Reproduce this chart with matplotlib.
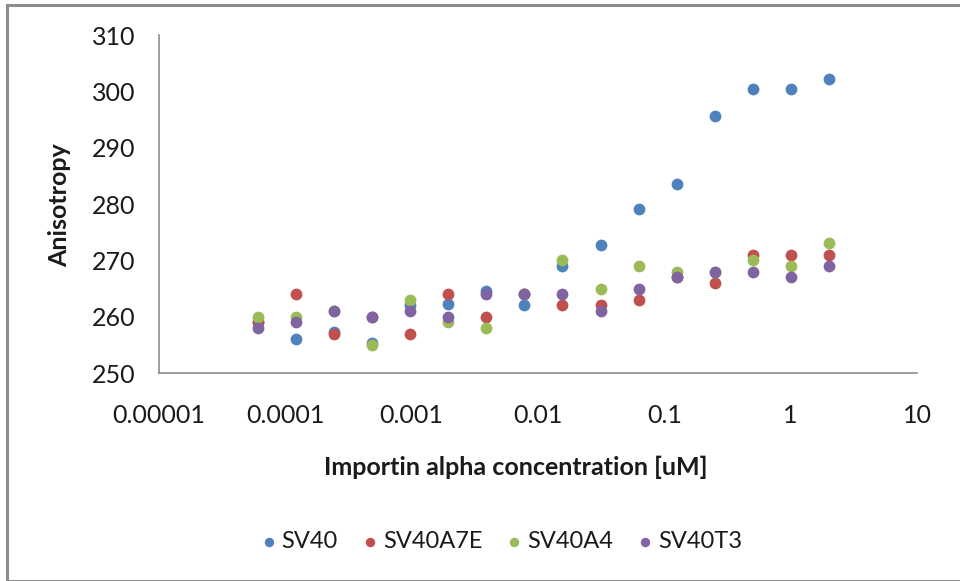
import matplotlib
matplotlib.use("Agg")
import matplotlib.pyplot as plt
from matplotlib.patches import Rectangle

conc = [2 / 2**k for k in range(15, -1, -1)]
sv40 =    [259, 256, 257.3, 255.3, 262, 262.3, 264.5, 262, 269, 272.7, 279.2, 283.5, 295.6, 300.5, 300.4, 302.2]
sv40a7e = [259, 264, 257,   260,   257, 264,   260,   264, 262, 262,   263,   267,   266,   271,   271,   271]
sv40a4 =  [260, 260, 261,   255,   263, 259,   258,   264, 270, 265,   269,   268,   268,   270,   269,   273]
sv40t3 =  [258, 259, 261,   260,   261, 260,   264,   264, 264, 261,   265,   267,   268,   268,   267,   269]
series = [("SV40", sv40, "#4F81BD"), ("SV40A7E", sv40a7e, "#C0504D"),
          ("SV40A4", sv40a4, "#9BBB59"), ("SV40T3", sv40t3, "#8064A2")]
xticks = [1e-5, 1e-4, 1e-3, 1e-2, 1e-1, 1, 10]
xticklabels = ["0.00001", "0.0001", "0.001", "0.01", "0.1", "1", "10"]
yticks = [250, 260, 270, 280, 290, 300, 310]

plt.rcParams['font.family'] = ['Lato', 'DejaVu Sans']
fig = plt.figure(figsize=(9.6, 5.81), dpi=100)
fig.patches.append(Rectangle((7/960, 0.5/581), 2, 1 - 5.5/581, transform=fig.transFigure,
                             fill=False, edgecolor="#8c8c8c", linewidth=2.2))
ax = fig.add_axes([159/960, 1 - 373/581, (917 - 159)/960, (373 - 35)/581])
for name, vals, col in series:
    ax.scatter(conc, vals, s=72, color=col, label=name, zorder=3, linewidths=0)
ax.set_xscale("log")
ax.set_xlim(1e-5, 10)
ax.set_ylim(250, 310)
ax.set_xticks(xticks)
ax.set_xticklabels(xticklabels)
ax.xaxis.set_minor_locator(matplotlib.ticker.NullLocator())
ax.set_yticks(yticks)
ax.tick_params(length=0, labelsize=18, colors="#1a1a1a")
ax.tick_params(axis="x", pad=22)
ax.tick_params(axis="y", pad=17)
for s in ["top", "right"]:
    ax.spines[s].set_visible(False)
for s in ["left", "bottom"]:
    ax.spines[s].set_color("#8c8c8c")
    ax.spines[s].set_linewidth(1.2)
fig.text(60/960, 1 - 205/581, "Anisotropy", rotation=90, ha="center", va="center",
         fontsize=18, fontweight="bold", color="#1a1a1a")
fig.text(516/960, 1 - 467/581, "Importin alpha concentration [uM]", ha="center", va="center",
         fontsize=18, fontweight="bold", color="#1a1a1a")
leg = fig.legend(loc="center", bbox_to_anchor=(500/960, 1 - 542/581), ncol=4, frameon=False,
                 fontsize=17, handletextpad=0.1, handlelength=0.9, columnspacing=0.9,
                 markerscale=0.8)
for t in leg.get_texts():
    t.set_color("#1a1a1a")
fig.savefig("out.png", dpi=100)
